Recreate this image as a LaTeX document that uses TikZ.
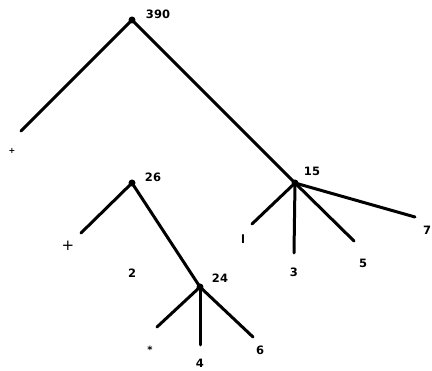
\documentclass[tikz,border=0pt]{standalone}
\usepackage{fontspec}
\setmainfont{DejaVu Sans}
\begin{document}
\begin{tikzpicture}[x=1pt,y=-1pt,
  edge/.style={line width=3pt,line cap=round},
  lbl/.style={font=\bfseries\fontsize{11.5}{11.5}\selectfont,inner sep=0pt,anchor=center},
  dotnode/.style={circle,fill=black,inner sep=0pt,minimum size=7pt}]
\useasboundingbox (0,0) rectangle (432,371);
% internal nodes
\node[dotnode] (n390) at (132,20) {};
\node[dotnode] (n15) at (295,183) {};
\node[dotnode] (n26) at (132,183) {};
\node[dotnode] (n24) at (200,287) {};
% leaf ends
\coordinate (e1) at (21,131);
\coordinate (e2) at (81,233);
\coordinate (e3) at (157,327);
\coordinate (e4) at (200,345);
\coordinate (e5) at (253,337);
\coordinate (e6) at (252,224);
\coordinate (e7) at (294,253);
\coordinate (e8) at (354,241);
\coordinate (e9) at (415,217);
% edges
\draw[edge] (n390.center) -- (e1);
\draw[edge] (n390.center) -- (n15.center);
\draw[edge] (n26.center) -- (e2);
\draw[edge] (n26.center) -- (n24.center);
\draw[edge] (n24.center) -- (e3);
\draw[edge] (n24.center) -- (e4);
\draw[edge] (n24.center) -- (e5);
\draw[edge] (n15.center) -- (e6);
\draw[edge] (n15.center) -- (e7);
\draw[edge] (n15.center) -- (e8);
\draw[edge] (n15.center) -- (e9);
% labels
\node[lbl] (l390) at (158,14) {390};
\node[lbl] (l15) at (312,171) {15};
\node[lbl] (l26) at (153,177) {26};
\node[lbl] (l24) at (220,278) {24};
\node[lbl,font=\bfseries\fontsize{8}{8}\selectfont] (lp1) at (12,151) {+};
\node[lbl,font=\fontsize{15}{15}\selectfont] (lp2) at (68,246) {+};
\node[lbl] (l2) at (132,273) {2};
\node[lbl,font=\bfseries\fontsize{10}{10}\selectfont] (lst) at (150,350) {*};
\node[lbl] (l4) at (200,363) {4};
\node[lbl] (l6) at (260,350) {6};
\node[lbl] (ll) at (243,239) {l};
\node[lbl] (l3) at (294,272) {3};
\node[lbl] (l5) at (363,263) {5};
\node[lbl] (l7) at (427,230) {7};
\end{tikzpicture}
\end{document}
